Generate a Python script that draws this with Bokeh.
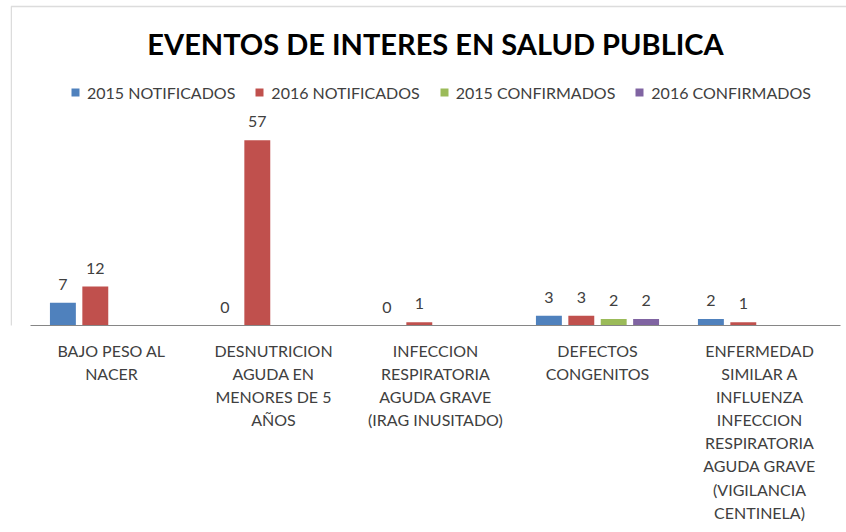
from bokeh.plotting import figure
from bokeh.models import ColumnDataSource, Range1d, Legend, LegendItem, Label, BoxAnnotation, FixedTicker
from bokeh.core.properties import value
from bokeh.embed import file_html
from bokeh.resources import INLINE

# ---- data ----
categories = [
    "BAJO PESO AL\nNACER",
    "DESNUTRICION\nAGUDA EN\nMENORES DE 5\nAÑOS",
    "INFECCION\nRESPIRATORIA\nAGUDA GRAVE\n(IRAG INUSITADO)",
    "DEFECTOS\nCONGENITOS",
    "ENFERMEDAD\nSIMILAR A\nINFLUENZA\nINFECCION\nRESPIRATORIA\nAGUDA GRAVE\n(VIGILANCIA\nCENTINELA)",
]
series_names = ["2015 NOTIFICADOS", "2016 NOTIFICADOS", "2015 CONFIRMADOS", "2016 CONFIRMADOS"]
notificados_2015 = [7, 0, 0, 3, 2]
notificados_2016 = [12, 57, 1, 3, 1]
confirmados_2015 = [None, None, None, 2, None]
confirmados_2016 = [None, None, None, 2, None]
title_text = "EVENTOS DE INTERES EN SALUD PUBLICA"

series_values = [notificados_2015, notificados_2016, confirmados_2015, confirmados_2016]
colors = ["#4F81BD", "#C0504D", "#9BBB59", "#8064A2"]
offsets = [-0.3, -0.1, 0.1, 0.3]
FONT = "Lato"
TXT = "#404040"

n = len(categories)
centers = [i + 0.5 for i in range(n)]

# frame spans page x 10..846 (836 px), categories span 30..840 (162 px each)
CAT_PX = 162.0
p = figure(
    x_range=Range1d(-20 / CAT_PX, (836 - 20) / CAT_PX),
    y_range=Range1d(0, 100),
    width=846, height=530,
    output_backend="svg", toolbar_location=None,
    min_border_left=10, min_border_right=0, min_border_top=0, min_border_bottom=205,
)
p.outline_line_color = None
p.xgrid.grid_line_color = None
p.ygrid.grid_line_color = None
p.yaxis.visible = False
p.background_fill_color = "white"
p.border_fill_color = "white"

# chart-area border (left and top edges visible)
p.add_layout(BoxAnnotation(left=0.75, right=3000, bottom=-3000, top=319,
                           left_units="screen", right_units="screen",
                           bottom_units="screen", top_units="screen",
                           fill_alpha=0, line_color="#8a8a8a", line_width=1.5,
                           level="underlay"))

xa = p.xaxis[0]
xa.ticker = FixedTicker(ticks=centers)
xa.major_label_overrides = {c: lab for c, lab in zip(centers, categories)}
xa.axis_line_color = None
xa.major_tick_line_color = None
xa.minor_tick_line_color = None
xa.major_label_text_font = FONT
xa.major_label_text_font_size = "16px"
xa.major_label_text_color = TXT
xa.major_label_text_line_height = 1.22
xa.major_label_standoff = 9
xa.major_label_orientation = "horizontal"

items = []
for name, vals, col, off in zip(series_names, series_values, colors, offsets):
    xs = [c + off for c, v in zip(centers, vals) if v is not None]
    ys = [v for v in vals if v is not None]
    src = ColumnDataSource(dict(x=xs, top=ys, label=[str(v) for v in ys]))
    r = p.vbar(x="x", top="top", width=0.16, source=src, fill_color=col, line_color=None)
    p.text(x="x", y="top", text="label", source=src,
           text_font=value(FONT), text_font_size="16px", text_color=TXT,
           text_align="center", text_baseline="bottom", y_offset=-13)
    items.append(LegendItem(label=name, renderers=[r]))

# category axis baseline across the categories, drawn over the bars
p.segment(x0=[0], x1=[n], y0=[0], y1=[0], line_color="#868686", line_width=1, level="overlay")

legend = Legend(items=items, orientation="horizontal", location=(60, 223),
                padding=0, margin=0, spacing=19, label_standoff=7,
                glyph_width=10, glyph_height=10, label_height=20,
                label_text_font=FONT, label_text_font_size="16px", label_text_color=TXT,
                border_line_color=None, background_fill_alpha=0)
p.add_layout(legend)

title = Label(x=425, y=282, x_units="screen", y_units="screen", text=title_text,
              text_font=FONT, text_font_style="bold", text_font_size="29px",
              text_color="black", text_align="center", text_baseline="middle")
p.add_layout(title)

open("out.html", "w").write(file_html(p, INLINE))
